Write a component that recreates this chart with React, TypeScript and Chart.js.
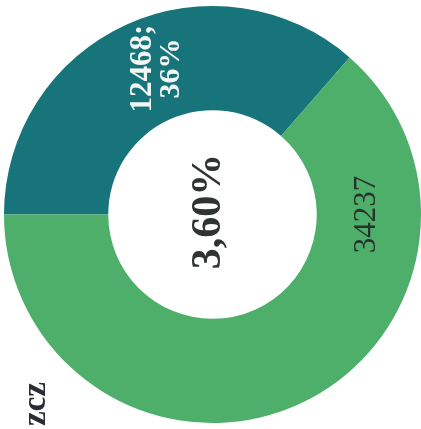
import React, { useEffect, useRef } from "react";
import { Chart, registerables } from "chart.js";

Chart.register(...registerables);

const categories = ["A", "B"];
const highlightValue = 12468;
const totalValue = 34237;
const centerText = "3,60%";
const cornerText = "zcz";
const colors = ["#16747a", "#4daf6a"];

export default function App() {
  const ref = useRef<HTMLCanvasElement | null>(null);
  useEffect(() => {
    const canvas = ref.current;
    if (!canvas) return;
    const rest = totalValue - highlightValue;
    const pct = Math.round((highlightValue / totalValue) * 100);
    const serif = '"Liberation Serif", "DejaVu Serif", serif';

    const textPlugin = {
      id: "texts",
      afterDatasetsDraw(chart: any) {
        const ctx = chart.ctx as CanvasRenderingContext2D;
        const meta = chart.getDatasetMeta(0);
        const a0 = meta.data[0] as any;
        const a1 = meta.data[1] as any;
        const cx = a0.x;
        const cy = a0.y;
        const drawRot = (t: string, x: number, y: number, font: string, color: string, align: CanvasTextAlign = "center") => {
          ctx.save();
          ctx.translate(x, y);
          ctx.rotate(-Math.PI / 2);
          ctx.font = font;
          ctx.fillStyle = color;
          ctx.textAlign = align;
          ctx.textBaseline = "middle";
          ctx.fillText(t, 0, 0);
          ctx.restore();
        };
        // center
        drawRot(centerText, cx - 3, cy - 3, "bold 42px " + serif, "#2f3433");
        // dark slice label
        const mid = (a0.startAngle + a0.endAngle) / 2 + 0.06;
        const r = (a0.innerRadius + a0.outerRadius) / 2;
        const lx = cx + Math.cos(mid) * r;
        const ly = cy + Math.sin(mid) * r;
        drawRot(String(highlightValue) + ";", lx - 13, ly, "bold 31px " + serif, "#f4f6f4");
        drawRot(String(pct) + "%", lx + 15, ly, "bold 30px " + serif, "#f4f6f4");
        // green slice label
        const r1 = (a1.innerRadius + a1.outerRadius) / 2;
        drawRot(String(totalValue), cx + r1 - 2, cy, "31px " + serif, "#27322c");
        // corner text
        drawRot(cornerText, 36, 382, "bold 33px " + serif, "#2a2d33", "right");
      },
    };

    const chart = new Chart(canvas, {
      type: "doughnut",
      data: {
        labels: categories,
        datasets: [
          {
            data: [highlightValue, rest],
            backgroundColor: colors,
            borderWidth: 0,
          },
        ],
      },
      options: {
        responsive: false,
        animation: false,
        rotation: 270,
        cutout: "50%",
        layout: { padding: { left: 4, right: 0, top: 0, bottom: 0 } },
        plugins: { legend: { display: false }, tooltip: { enabled: false } },
      },
      plugins: [textPlugin],
    });
    return () => chart.destroy();
  }, []);
  return (
    <div style={{ position: "fixed", left: 0, top: 0, width: 421, height: 429, background: "#fff" }}>
      <canvas ref={ref} width={421} height={429} style={{ display: "block" }} />
    </div>
  );
}
